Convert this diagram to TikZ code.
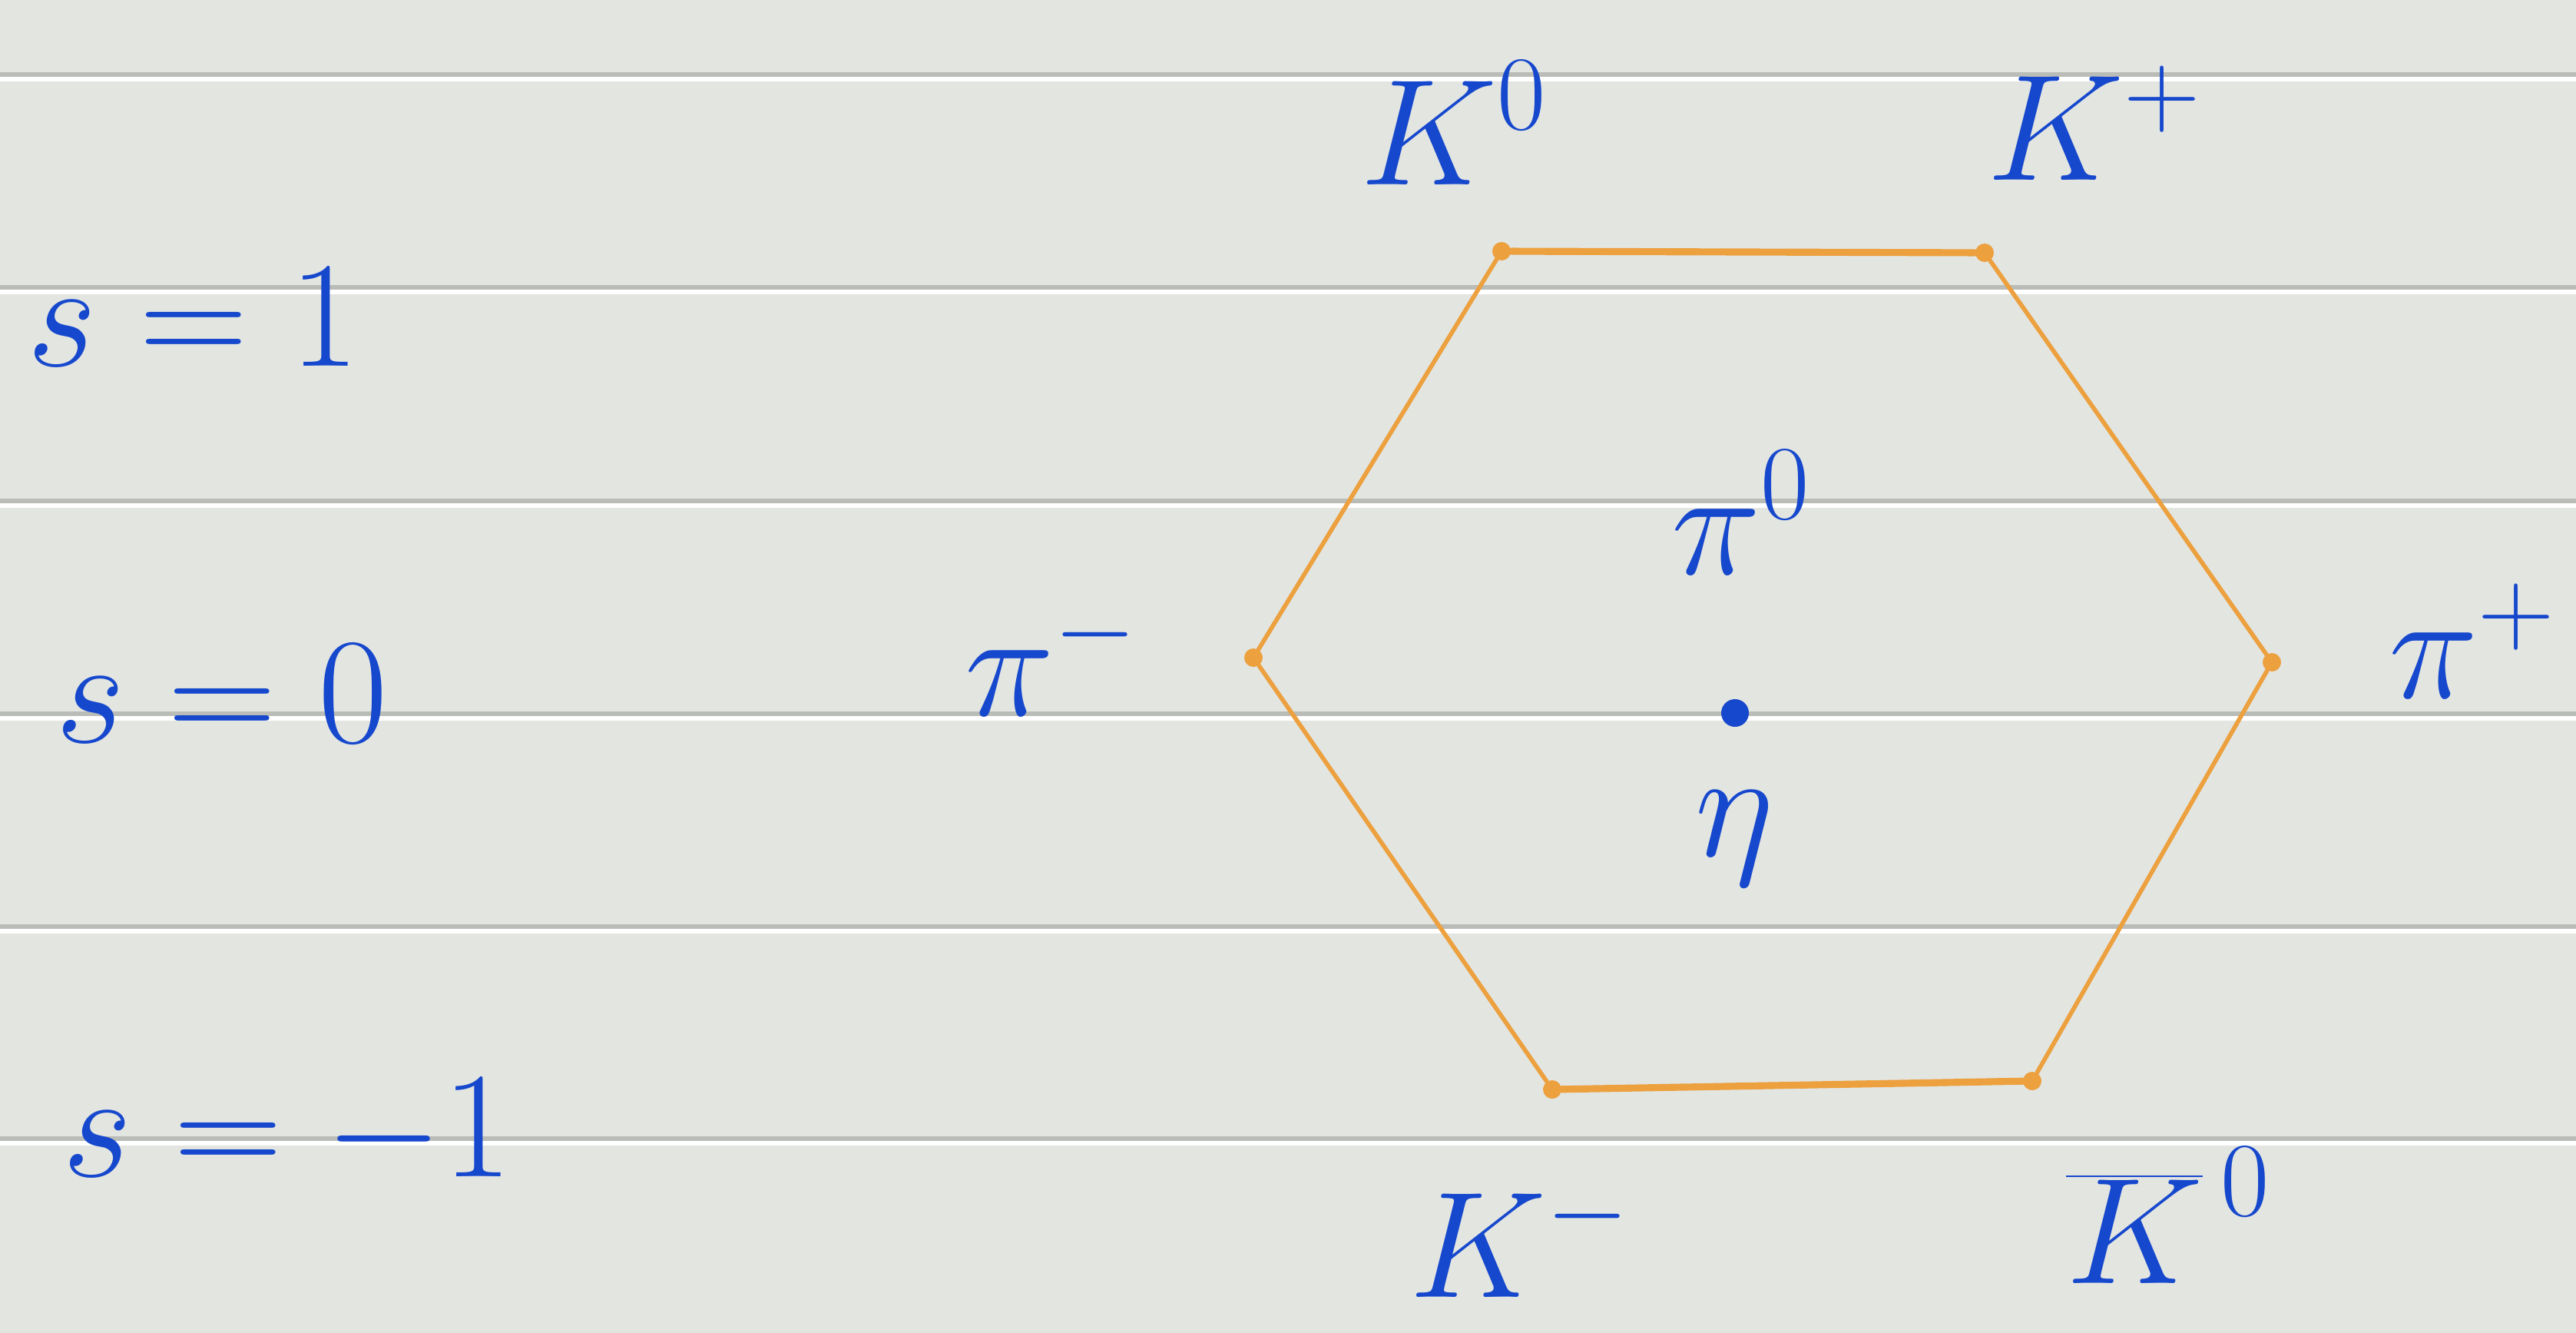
\RequirePackage{fix-cm}
\documentclass[tikz,border=0pt]{standalone}
\usepackage{xcolor}
\usepackage{tikz}
\usetikzlibrary{positioning}
\definecolor{paper}{RGB}{227,229,225}
\definecolor{rulegray}{RGB}{186,188,184}
\definecolor{inkblue}{RGB}{22,72,205}
\definecolor{inkorange}{RGB}{236,160,62}
\tikzset{
  ruling/.style={rulegray, line width=1.6pt},
  shine/.style={white, line width=1.7pt},
  vtx/.style={circle, fill=inkorange, inner sep=0pt, minimum size=0.24cm},
  side/.style={inkorange, line width=1.6pt, line cap=round},
  rim/.style={inkorange, line width=2.6pt, line cap=round},
  meson/.style={text=inkblue, font=\fontsize{56}{60}\selectfont, inner sep=0pt},
  centre/.style={circle, fill=inkblue, inner sep=0pt, minimum size=0.36cm}
}

\begin{document}
\begin{tikzpicture}[on grid]
  \useasboundingbox (0,0) rectangle (33.54,-17.35);
  \fill [paper] (0,0) rectangle (33.54,-17.35);

  % ruled paper
  \foreach \y in {0.97,3.74,6.52,9.29,12.06,14.82} {
    \draw [ruling] (0,-\y) -- (33.54,-\y);
    \draw [shine] (0,-\y-0.06) -- (33.54,-\y-0.06);
  }

  % strangeness rows
  \node [meson] (s1) at (2.52,-4.13) {$s = 1$};
  \node [meson] (s0) at (2.89,-9.03) {$s = 0$};
  \node [meson] (sm) at (3.74,-14.76) {$s = -1$};

  % meson octet
  \node [vtx] (k0) at (19.55,-3.27) {};
  \node [vtx] (kp) at (25.84,-3.29) {};
  \node [vtx] (pim) at (16.32,-8.56) {};
  \node [vtx] (pip) at (29.58,-8.62) {};
  \node [vtx] (km) at (20.21,-14.18) {};
  \node [vtx] (kb0) at (26.46,-14.07) {};
  \node [centre] (c) at (22.59,-9.28) {};

  \draw [rim] (k0) -- (kp);
  \draw [side] (kp) -- (pip);
  \draw [side] (pip) -- (kb0);
  \draw [rim] (kb0) -- (km);
  \draw [side] (km) -- (pim);
  \draw [side] (pim) -- (k0);

  \node [meson, above left=1.67cm and 0.62cm of k0] (lk0) {$K^0$};
  \node [meson, above right=1.69cm and 1.43cm of kp] (lkp) {$K^+$};
  \node [meson, left=2.63cm of pim] (lpim) {$\pi^-$};
  \node [meson, above right=0.28cm and 2.61cm of pip] (lpip) {$\pi^+$};
  \node [meson, below left=1.95cm and 0.42cm of km] (lkm) {$K^-$};
  \node [meson, below right=1.75cm and 1.77cm of kb0] (lkb0) {$\overline{K}^{\,0}$};
  \node [meson, above right=2.61cm and 0.08cm of c] (lpi0) {$\pi^0$};
  \node [meson, below=1.63cm of c] (leta) {$\eta$};
\end{tikzpicture}
\end{document}
